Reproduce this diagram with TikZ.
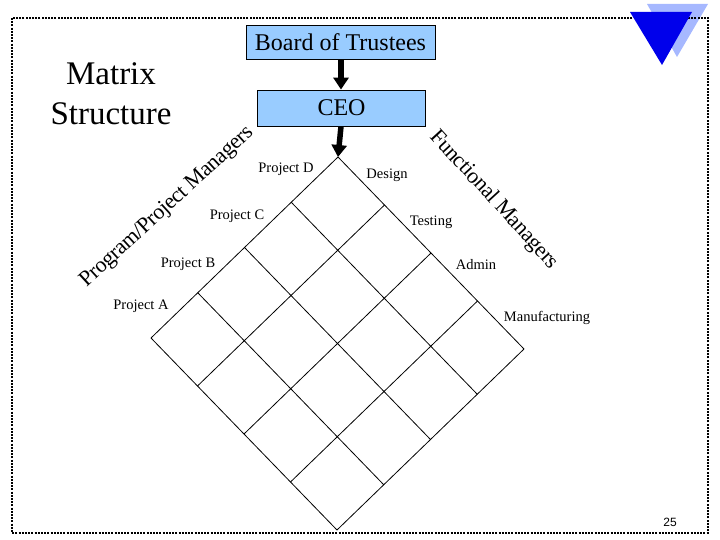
\documentclass[tikz,border=0pt]{standalone}
\usepackage{fontspec}
\setmainfont{Liberation Serif}
\newfontfamily\pagenumfont{Liberation Sans}
\newfontfamily\diagfont[LetterSpace=-2]{Liberation Serif}
\usetikzlibrary{arrows.meta,calc}
\definecolor{boxblue}{RGB}{153,204,255}
\definecolor{lightblue}{RGB}{166,184,255}
\definecolor{darkblue}{RGB}{0,0,235}
\tikzset{
  box/.style={draw=black, line width=0.8pt, fill=boxblue, inner sep=0pt, font=\fontsize{24}{26}\selectfont},
  bigarrow/.style={line width=5.5pt, -{Triangle[width=15pt,length=12pt]}},
  gridline/.style={line width=0.8pt},
  lab/.style={inner sep=0pt, font=\fontsize{14.5}{16}\selectfont},
  diaglab/.style={inner sep=0pt, font=\diagfont\fontsize{22}{24}\selectfont},
  border/.style={line width=2pt, dash pattern=on 2pt off 1.2pt}
}
\begin{document}
\begin{tikzpicture}[x=1pt,y=-1pt]
\useasboundingbox (0,0) rectangle (720,540);
% corner decoration and border
\fill[lightblue] (647,4) -- (708,4) -- (677,57) -- cycle;
\draw[border] (12,18) rectangle (708,533);
\fill[darkblue] (630,12) -- (692,12) -- (662,65) -- cycle;
\node[inner sep=0pt, fill=white, font=\pagenumfont\fontsize{12}{13}\selectfont] (pnum) at (670,522) {25};
% title
\node[align=center, inner sep=0pt, font=\fontsize{33}{40}\selectfont] (title) at (111,94) {Matrix\\Structure};
% boxes
\node[box, minimum width=189pt, minimum height=34pt] (board) at (340.5,42) {Board of Trustees};
\node[box, minimum width=168pt, minimum height=36pt] (ceo) at (341.5,108) {CEO};
% grid coordinates
\coordinate (T) at (338,157);
\foreach \i in {0,...,4}{
  \foreach \j in {0,...,4}{
    \coordinate (g\i\j) at ($(T)+\i*(-46.75,45.25)+\j*(46.5,48)$);
  }
}
\foreach \k in {0,...,4}{
  \draw[gridline] (g\k0) -- (g\k4);
  \draw[gridline] (g0\k) -- (g4\k);
}
% arrows
\draw[bigarrow] (board.south -| 341,0) -- (ceo.north -| 341,0);
\draw[bigarrow] (ceo.south -| 341,0) -- (T);
% labels
\node[lab] (pd) at (286,169) {Project D};
\node[lab] (pc) at (237,216) {Project C};
\node[lab] (pb) at (188,264) {Project B};
\node[lab] (pa) at (141,306) {Project A};
\node[lab] (design) at (387,175) {Design};
\node[lab] (testing) at (431,222) {Testing};
\node[lab] (admin) at (476,265) {Admin};
\node[lab] (manu) at (547,318) {Manufacturing};
\node[diaglab, rotate=42.5] (ppm) at (167,207) {Program/Project Managers};
\node[diaglab, rotate=-47.5] (fm) at (494,200) {Functional Managers};
\end{tikzpicture}
\end{document}
